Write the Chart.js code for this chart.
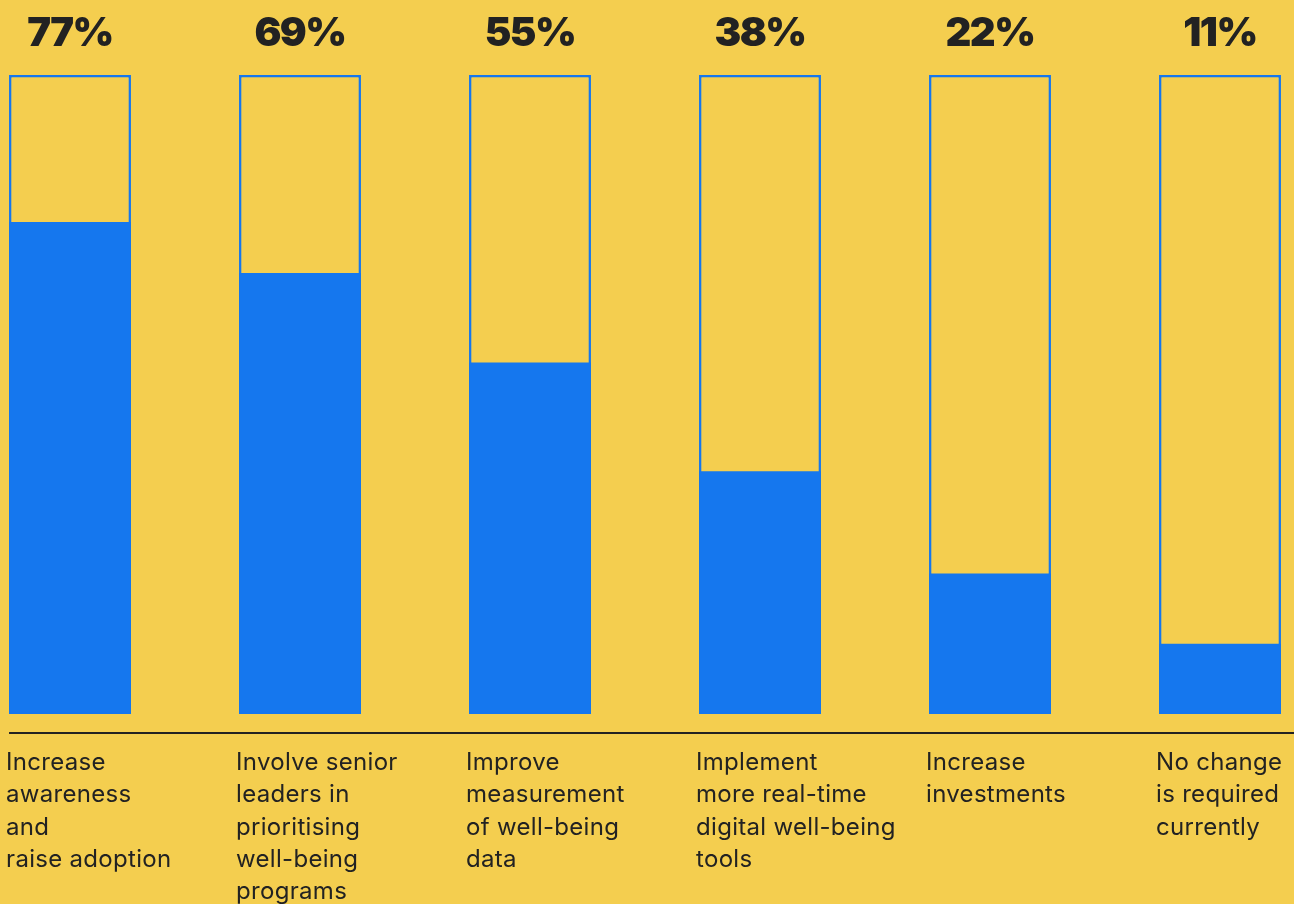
<!DOCTYPE html>
<html>
<head>
<meta charset="utf-8">
<script src="https://cdn.jsdelivr.net/npm/chart.js@4.4.1/dist/chart.umd.min.js"></script>
<style>
  html, body { margin: 0; padding: 0; background: #F4CE4F; }
  #wrap { width: 1294px; height: 904px; }
</style>
</head>
<body>
<div id="wrap"><canvas id="myChart"></canvas></div>
<script>
const categories = [
    ['Increase', 'awareness', 'and', 'raise adoption'],
    ['Involve senior', 'leaders in', 'prioritising', 'well-being', 'programs'],
    ['Improve', 'measurement', 'of well-being', 'data'],
    ['Implement', 'more real-time', 'digital well-being', 'tools'],
    ['Increase', 'investments'],
    ['No change', 'is required', 'currently']
];
const shares = [77, 69, 55, 38, 22, 11];
const fullScale = [100, 100, 100, 100, 100, 100];

const blue = '#1577EE';
const yellow = '#F4CE4F';
const ink = '#222222';

// percent labels on top, category labels and rule below the bars
const textPlugin = {
    id: 'textPlugin',
    afterDraw(chart) {
        const ctx = chart.ctx;
        const x = chart.scales.x;
        const meta = chart.getDatasetMeta(0);
        ctx.save();
        ctx.fillStyle = ink;
        ctx.textAlign = 'center';
        ctx.textBaseline = 'alphabetic';
        ctx.font = '900 40px Inter';
        ctx.letterSpacing = '-1.5px';
        shares.forEach((v, i) => {
            ctx.fillText(v + '%', x.getPixelForValue(i), 46);
        });

        // rule under the bars
        const firstLeft = meta.data[0].x - meta.data[0].width / 2;
        ctx.strokeStyle = ink;
        ctx.lineWidth = 2;
        ctx.beginPath();
        ctx.moveTo(firstLeft, 733);
        ctx.lineTo(chart.width, 733);
        ctx.stroke();

        ctx.textAlign = 'left';
        ctx.font = '400 24px Inter';
        ctx.letterSpacing = '0.3px';
        categories.forEach((lines, i) => {
            const bar = meta.data[i];
            const left = bar.x - bar.width / 2 - 3;
            lines.forEach((line, j) => {
                ctx.fillText(line, left, 770 + j * 32.3);
            });
        });
        ctx.restore();
    }
};

const ctx = document.getElementById('myChart').getContext('2d');

const myChart = new Chart(ctx, {
    type: 'bar',
    data: {
        labels: categories,
        datasets: [{
            label: 'Share',
            data: shares,
            backgroundColor: blue,
            borderWidth: 0,
            order: 1
        }, {
            label: 'Outline',
            data: fullScale,
            backgroundColor: yellow,
            borderColor: blue,
            borderWidth: 2.5,
            borderSkipped: false,
            order: 2
        }]
    },
    options: {
        responsive: true,
        maintainAspectRatio: false,
        animation: false,
        layout: {
            padding: { left: 70, right: 74, top: 75, bottom: 190 }
        },
        datasets: {
            bar: {
                grouped: false,
                clip: false,
                barPercentage: 0.53,
                categoryPercentage: 1
            }
        },
        plugins: {
            legend: { display: false },
            tooltip: { enabled: false }
        },
        scales: {
            x: {
                display: false,
                offset: false
            },
            y: {
                display: false,
                min: 0,
                max: 100
            }
        }
    },
    plugins: [textPlugin]
});
</script>
</body>
</html>
